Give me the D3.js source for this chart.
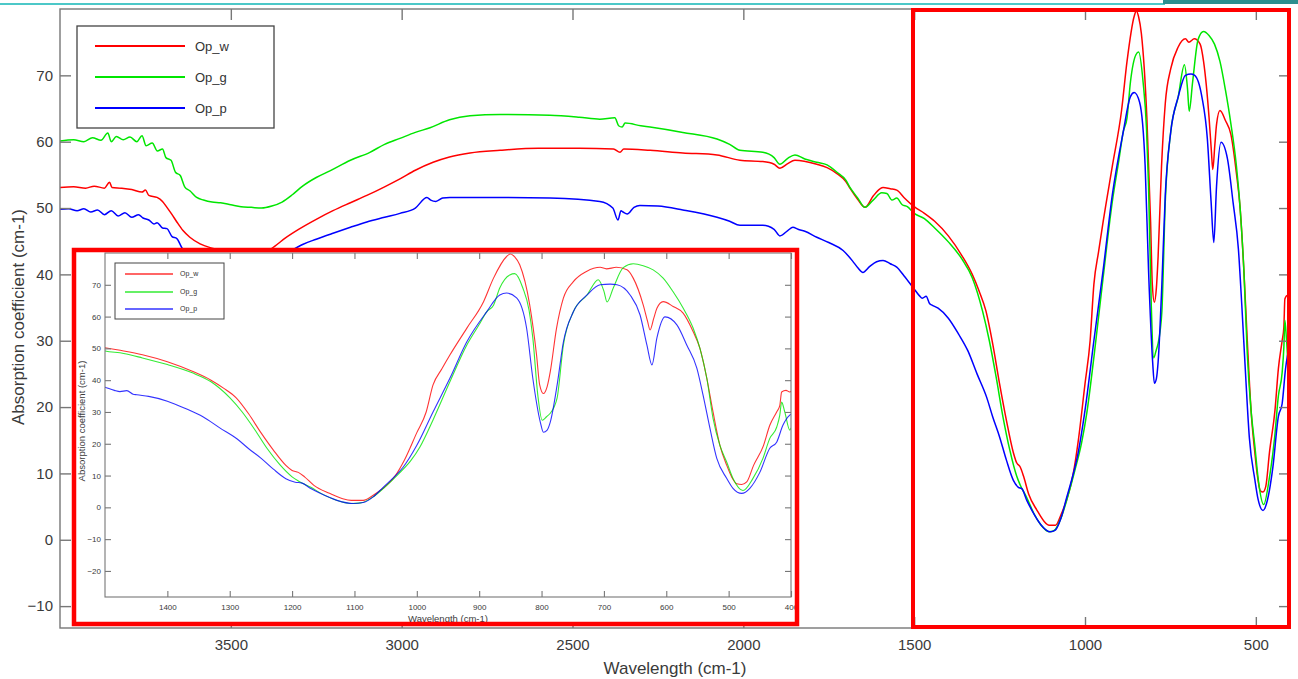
<!DOCTYPE html>
<html lang="en">
<head>
  <meta charset="UTF-8">
  <title>Absorption coefficient spectra</title>
  <script src="https://d3js.org/d3.v7.min.js"></script>
  <style>
    body { margin: 0; background: #fff; }
    text { font-family: "Liberation Sans", Arial, sans-serif; }
  </style>
</head>
<body>
  <svg id="chart" width="1298" height="679"></svg>

  <script>
    // series: [wavenumber (cm-1), absorption coefficient]
    const seriesNames = ["Op_w", "Op_g", "Op_p"];
    const seriesColors = ["#ff0000", "#00e600", "#0000ff"];

    const opW = [
      [4000,53.1],[3960,53.2],[3925,53.0],[3900,53.3],[3870,53.0],[3855,53.9],[3848,53.1],[3820,53.0],[3790,52.8],
      [3760,52.4],[3750,52.7],[3740,51.9],[3716,51.6],[3700,51.0],[3687,50.1],[3672,49.0],[3658,47.9],[3640,46.6],
      [3620,45.6],[3590,44.6],[3552,43.9],[3500,43.2],[3450,42.8],[3400,43.3],[3370,44.3],[3340,45.5],[3298,46.9],
      [3250,48.3],[3201,49.6],[3150,50.8],[3102,51.9],[3050,53.2],[3005,54.4],[2960,55.7],[2908,56.9],[2860,57.7],
      [2800,58.3],[2712,58.7],[2600,59.0],[2480,59.0],[2380,58.9],[2361,58.4],[2350,58.9],[2273,58.7],[2177,58.3],
      [2077,58.0],[2010,57.2],[1943,57.0],[1910,56.6],[1893,56.0],[1870,56.7],[1849,57.2],[1785,56.6],[1755,56.1],
      [1726,55.2],[1700,54.0],[1688,53.0],[1665,51.3],[1644,50.1],[1620,51.8],[1600,52.9],[1591,53.1],[1570,52.9],
      [1551,52.7],[1530,51.6],[1500,50.2],[1470,49.2],[1440,48.0],[1400,45.8],[1360,42.8],[1330,40.0],[1310,37.5],
      [1290,34.5],[1270,29.5],[1250,23.5],[1230,18.0],[1210,13.2],[1200,11.6],[1190,11.0],[1180,9.6],[1165,6.9],
      [1140,4.4],[1120,2.8],[1105,2.2],[1086,2.2],[1070,3.8],[1054,6.0],[1035,9.8],[1020,14.8],[1000,23.5],
      [985,30.0],[974,38.5],[960,43.5],[947,47.9],[920,56.3],[893,64.7],[877,72.1],[856,78.9],[850,79.7],[843,78.8],
      [835,76.3],[819,63.7],[808,47.9],[803,38.5],[797,35.8],[791,38.0],[786,42.7],[776,56.3],[765,65.8],[749,71.0],
      [728,74.2],[706,75.5],[696,75.0],[680,75.5],[663,74.7],[653,72.1],[637,63.7],[630,58.5],[626,55.8],[620,59.5],
      [615,62.6],[605,64.7],[589,63.2],[573,61.1],[557,55.3],[546,50.0],[535,40.6],[525,30.0],[514,19.5],[503,13.2],
      [495,9.5],[487,7.4],[479,7.2],[471,8.0],[460,13.2],[444,19.5],[434,25.8],[423,30.0],[418,32.0],[415,36.3],
      [408,36.8],[402,36.3],[400,36.5]
    ];

    const opG = [
      [4000,60.1],[3960,60.3],[3930,60.0],[3905,60.6],[3880,60.2],[3860,61.3],[3850,60.0],[3835,60.8],[3815,60.3],
      [3795,60.7],[3775,60.0],[3760,60.9],[3748,59.4],[3730,59.8],[3715,58.6],[3700,58.9],[3690,57.6],[3675,57.2],
      [3662,55.4],[3648,54.9],[3635,53.2],[3620,52.6],[3600,51.6],[3580,51.2],[3555,50.9],[3530,50.8],[3500,50.5],
      [3470,50.2],[3440,50.1],[3410,50.0],[3380,50.3],[3350,50.9],[3320,52.0],[3290,53.3],[3250,54.6],[3210,55.6],
      [3150,57.2],[3093,58.4],[3050,59.6],[3005,60.5],[2960,61.4],[2917,62.1],[2860,63.3],[2800,63.9],[2712,64.1],
      [2566,64.0],[2480,63.7],[2420,63.4],[2376,63.6],[2365,62.4],[2355,62.2],[2346,62.8],[2300,62.4],[2273,62.2],
      [2177,61.4],[2077,60.4],[2040,59.6],[2010,58.7],[1943,58.4],[1910,57.6],[1893,56.6],[1870,57.5],[1849,58.0],
      [1820,57.4],[1785,56.9],[1755,56.5],[1726,55.4],[1700,54.2],[1688,53.1],[1665,51.5],[1644,50.1],[1620,51.2],
      [1595,52.3],[1580,52.2],[1565,51.2],[1551,51.5],[1535,50.5],[1520,50.2],[1500,49.2],[1470,48.4],[1440,47.0],
      [1400,44.9],[1360,42.3],[1330,39.5],[1300,34.5],[1280,30.0],[1260,24.5],[1240,18.5],[1220,13.5],[1200,9.6],
      [1190,8.3],[1170,6.3],[1150,4.0],[1130,2.3],[1105,1.2],[1090,1.4],[1070,3.3],[1050,6.6],[1030,10.4],[1010,14.6],
      [995,19.0],[974,27.5],[947,39.5],[920,51.0],[900,57.5],[888,61.5],[877,63.6],[867,69.0],[851,73.1],[843,73.5],
      [830,69.0],[820,62.0],[814,53.3],[806,35.3],[799,27.4],[792,28.5],[786,29.6],[780,31.5],[775,34.4],[765,51.0],
      [749,61.5],[727,66.8],[709,71.6],[700,68.0],[695,64.6],[685,69.0],[669,75.4],[653,76.6],[637,76.0],[621,74.7],
      [605,72.1],[589,67.8],[573,62.7],[557,56.4],[546,50.0],[535,40.6],[525,28.0],[514,19.5],[503,14.2],[493,9.1],
      [477,5.3],[461,9.1],[445,15.4],[434,21.7],[423,25.2],[418,29.0],[415,33.1],[410,30.0],[402,24.3],[400,25.0]
    ];

    const opP = [
      [4000,49.8],[3975,49.9],[3950,49.6],[3930,49.9],[3910,49.4],[3890,49.7],[3870,49.0],[3850,49.6],[3830,48.8],
      [3810,49.3],[3790,48.6],[3770,49.0],[3757,48.5],[3740,48.2],[3725,47.6],[3716,47.8],[3700,47.0],[3687,46.9],
      [3672,45.7],[3658,45.4],[3643,44.0],[3620,43.0],[3580,41.8],[3530,40.8],[3480,40.2],[3430,40.0],[3380,40.6],
      [3340,42.5],[3327,43.3],[3290,44.5],[3250,45.3],[3201,46.2],[3150,47.1],[3102,47.9],[3050,48.6],[3005,49.2],
      [2960,50.0],[2926,51.6],[2915,51.2],[2900,51.0],[2880,51.5],[2859,51.6],[2712,51.6],[2566,51.5],[2420,51.0],
      [2382,50.0],[2367,48.2],[2358,49.6],[2352,49.4],[2340,49.1],[2320,50.1],[2303,50.4],[2250,50.3],[2177,49.7],
      [2077,48.6],[2040,48.0],[2010,47.4],[1943,47.4],[1910,46.8],[1893,45.8],[1870,46.6],[1855,47.1],[1840,46.8],
      [1820,46.5],[1785,45.6],[1750,44.8],[1708,43.6],[1680,42.0],[1665,41.0],[1650,40.3],[1630,41.2],[1610,41.9],
      [1591,42.1],[1570,41.6],[1551,41.1],[1530,39.8],[1500,37.8],[1485,36.8],[1476,36.4],[1465,36.7],[1455,35.6],
      [1449,35.4],[1430,34.9],[1400,33.4],[1370,31.0],[1343,28.5],[1316,25.0],[1288,21.5],[1270,18.5],[1250,15.5],
      [1230,12.0],[1210,9.0],[1195,7.9],[1185,7.7],[1170,5.9],[1155,4.4],[1128,2.2],[1102,1.2],[1086,1.5],[1070,3.3],
      [1054,6.3],[1035,9.8],[1022,12.6],[1000,19.5],[974,30.0],[947,40.6],[920,52.0],[888,61.5],[867,66.8],[856,67.4],
      [840,65.9],[824,56.4],[814,40.6],[802,26.8],[797,23.6],[791,24.3],[786,26.8],[775,38.5],[765,52.0],[749,61.5],
      [727,66.8],[706,70.0],[690,70.2],[679,70.0],[658,66.8],[642,60.5],[631,51.0],[623,44.8],[615,53.3],[602,59.9],
      [583,57.4],[567,51.0],[551,43.8],[541,35.3],[530,24.9],[519,15.4],[503,9.1],[493,6.0],[479,4.4],[466,6.0],
      [450,11.0],[434,18.6],[423,20.5],[413,25.8],[402,29.0],[400,29.3]
    ];

    const mainXTicks = [3500, 3000, 2500, 2000, 1500, 1000, 500];
    const mainYTicks = [-10, 0, 10, 20, 30, 40, 50, 60, 70];
    const insetXTicks = [1400, 1300, 1200, 1100, 1000, 900, 800, 700, 600, 500, 400];
    const insetYTicks = [-20, -10, 0, 10, 20, 30, 40, 50, 60, 70];

    const series = [opW, opG, opP].map((values, i) => ({
      name: seriesNames[i], color: seriesColors[i], values: values
    }));

    const svg = d3.select("#chart");

    // slide decoration strip along the top
    svg.append("rect").attr("x", 0).attr("y", 3).attr("width", 1165).attr("height", 2).attr("fill", "#4cc8c8");
    svg.append("rect").attr("x", 1163).attr("y", 0).attr("width", 135).attr("height", 4).attr("fill", "#2b8f8f");

    const plain = d3.format("d");

    function drawPanel(g, cfg) {
      const x = d3.scaleLinear().domain(cfg.xDomain).range([cfg.left, cfg.right]);
      const y = d3.scaleLinear().domain(cfg.yDomain).range([cfg.bottom, cfg.top]);

      g.append("clipPath").attr("id", cfg.id + "-clip")
        .append("rect")
        .attr("x", cfg.left).attr("y", cfg.top)
        .attr("width", cfg.right - cfg.left).attr("height", cfg.bottom - cfg.top);

      const line = d3.line()
        .x(d => x(d[0]))
        .y(d => y(d[1]))
        .curve(d3.curveMonotoneX);

      g.append("g")
        .attr("clip-path", `url(#${cfg.id}-clip)`)
        .selectAll("path")
        .data(series)
        .join("path")
        .attr("d", d => line(d.values))
        .attr("fill", "none")
        .attr("stroke", d => d.color)
        .attr("stroke-width", cfg.lineWidth)
        .attr("stroke-opacity", cfg.lineOpacity)
        .attr("stroke-linejoin", "round");

      // ticks point inward on all four sides, like a MATLAB box
      const t = cfg.tickLen;
      const bottomAxis = g.append("g").attr("transform", `translate(0,${cfg.bottom})`)
        .call(d3.axisBottom(x).tickValues(cfg.xTicks).tickFormat(plain)
          .tickSizeInner(-t).tickSizeOuter(0).tickPadding(cfg.xPad));
      const topAxis = g.append("g").attr("transform", `translate(0,${cfg.top})`)
        .call(d3.axisTop(x).tickValues(cfg.xTicks).tickSizeInner(-t).tickSizeOuter(0).tickFormat(""));
      const leftAxis = g.append("g").attr("transform", `translate(${cfg.left},0)`)
        .call(d3.axisLeft(y).tickValues(cfg.yTicks).tickFormat(plain)
          .tickSizeInner(-t).tickSizeOuter(0).tickPadding(cfg.yPad));
      const rightAxis = g.append("g").attr("transform", `translate(${cfg.right},0)`)
        .call(d3.axisRight(y).tickValues(cfg.yTicks).tickSizeInner(-t).tickSizeOuter(0).tickFormat(""));

      [bottomAxis, topAxis, leftAxis, rightAxis].forEach(a => {
        a.select(".domain").remove();
        a.selectAll(".tick line").attr("stroke", "#777").attr("stroke-width", cfg.axisWidth);
        a.selectAll(".tick text")
          .attr("fill", "#3a3a3a")
          .style("font-size", cfg.tickFont + "px")
          .style("font-family", '"Liberation Sans", Arial, sans-serif');
      });

      g.append("rect")
        .attr("x", cfg.left).attr("y", cfg.top)
        .attr("width", cfg.right - cfg.left).attr("height", cfg.bottom - cfg.top)
        .attr("fill", "none").attr("stroke", "#777").attr("stroke-width", cfg.axisWidth);

      g.append("text")
        .attr("x", cfg.xLabelPos[0]).attr("y", cfg.xLabelPos[1])
        .attr("text-anchor", "middle")
        .attr("fill", "#3a3a3a")
        .style("font-size", cfg.labelFont + "px")
        .text("Wavelength (cm-1)");

      g.append("text")
        .attr("transform", `translate(${cfg.yLabelPos[0]},${cfg.yLabelPos[1]}) rotate(-90)`)
        .attr("text-anchor", "middle")
        .attr("fill", "#3a3a3a")
        .style("font-size", cfg.labelFont + "px")
        .text("Absorption coefficient (cm-1)");

      // legend
      const lg = cfg.legend;
      g.append("rect")
        .attr("x", lg.x).attr("y", lg.y).attr("width", lg.w).attr("height", lg.h)
        .attr("fill", "#fff").attr("stroke", "#444").attr("stroke-width", lg.border);
      const items = g.selectAll(".legend-" + cfg.id).data(series).join("g")
        .attr("class", "legend-" + cfg.id)
        .attr("transform", (d, i) => `translate(0,${lg.rows[i]})`);
      items.append("line")
        .attr("x1", lg.lineX[0]).attr("x2", lg.lineX[1])
        .attr("stroke", d => d.color).attr("stroke-width", lg.lineWidth)
        .attr("stroke-opacity", cfg.lineOpacity);
      items.append("text")
        .attr("x", lg.textX).attr("dy", "0.35em")
        .attr("fill", "#333")
        .style("font-size", lg.font + "px")
        .text(d => d.name);
    }

    // main plot
    drawPanel(svg.append("g"), {
      id: "main",
      left: 60, right: 1290, top: 9, bottom: 628,
      xDomain: [4000, 400], yDomain: [-13.3, 80],
      xTicks: mainXTicks, yTicks: mainYTicks,
      tickLen: 11, xPad: 11, yPad: 7, tickFont: 15, labelFont: 17,
      axisWidth: 1.4, lineWidth: 1.5, lineOpacity: 1,
      xLabelPos: [675, 674], yLabelPos: [24, 317],
      legend: { x: 77, y: 26, w: 197, h: 102, border: 1.3, rows: [46, 77, 108],
                lineX: [95, 185], textX: 195, font: 13, lineWidth: 2 }
    });

    // highlight box around 1500-400 cm-1
    svg.append("rect")
      .attr("x", 913).attr("y", 10).attr("width", 376).attr("height", 617)
      .attr("fill", "none").attr("stroke", "#ff0000").attr("stroke-width", 4);

    // inset: zoom on 1500-400 cm-1
    const inset = svg.append("g");
    inset.append("rect")
      .attr("x", 74).attr("y", 250).attr("width", 723).attr("height", 374)
      .attr("fill", "#fff");
    drawPanel(inset, {
      id: "inset",
      left: 105, right: 791, top: 253, bottom: 597,
      xDomain: [1500, 400], yDomain: [-28.2, 80],
      xTicks: insetXTicks, yTicks: insetYTicks,
      tickLen: 6, xPad: 7, yPad: 4, tickFont: 8, labelFont: 9.5,
      axisWidth: 1.1, lineWidth: 1.1, lineOpacity: 0.8,
      xLabelPos: [448, 622], yLabelPos: [85, 421],
      legend: { x: 115, y: 263, w: 109, h: 56, border: 1, rows: [274, 292, 309],
                lineX: [125, 173], textX: 180, font: 7, lineWidth: 1.3 }
    });
    inset.append("rect")
      .attr("x", 74).attr("y", 250).attr("width", 723).attr("height", 374)
      .attr("fill", "none").attr("stroke", "#ff0000").attr("stroke-width", 4.5);
  </script>
</body>
</html>
